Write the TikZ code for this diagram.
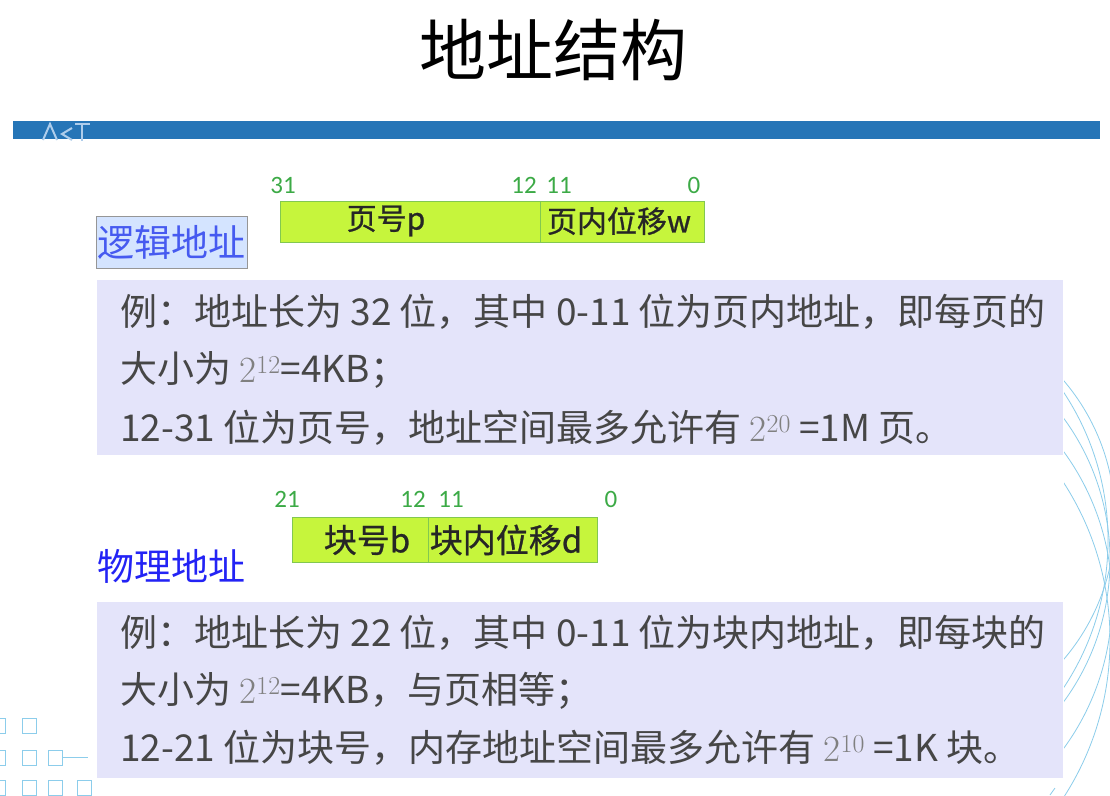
\documentclass[tikz,border=0pt]{standalone}
\usepackage{fontspec}
\setmainfont{Noto Sans CJK SC}
\newfontfamily\lmr{Latin Modern Roman}
\newfontfamily\digitfont{Carlito}
\newfontfamily\regfont[FakeBold=0.8]{Noto Sans CJK SC}
\definecolor{barblue}{RGB}{38,117,183}
\definecolor{limefill}{RGB}{198,245,60}
\definecolor{limeline}{RGB}{130,200,80}
\definecolor{digitgreen}{RGB}{60,170,70}
\definecolor{lavender}{RGB}{228,228,250}
\definecolor{bodygray}{RGB}{70,70,70}
\definecolor{lblfill}{RGB}{212,228,255}
\definecolor{lblline}{RGB}{150,150,150}
\definecolor{lbltext}{RGB}{70,90,240}
\definecolor{phystext}{RGB}{35,35,245}
\definecolor{decoblue}{RGB}{140,205,235}
\definecolor{barglyph}{RGB}{175,205,235}
\tikzset{
  bitno/.style={text=digitgreen, font=\digitfont\fontsize{25}{27}\selectfont, inner sep=0pt},
  regcell/.style={draw=limeline, line width=1pt, fill=limefill, inner sep=0pt, anchor=north west},
  regtext/.style={text=black!85, inner sep=0pt},
  bodyline/.style={anchor=west, text=bodygray, inner sep=0pt, font=\fontsize{37}{40}\selectfont},
  deco/.style={draw=decoblue, line width=0.8pt},
}
\begin{document}
\begin{tikzpicture}[x=1pt,y=-1pt]
\useasboundingbox (0,0) rectangle (1110,795);
\fill[white] (0,0) rectangle (1110,795);
% title
\node[font=\fontsize{67}{70}\selectfont, inner sep=0pt] (title) at (553,50) {地址结构};
% blue bar
\fill[barblue] (13,121) rectangle (1100,139);
\draw[barglyph, line width=2pt] (43,140) -- (50,124) -- (57,140);
\draw[barglyph, line width=2pt] (72,128) -- (62,134) -- (72,140);
\draw[barglyph, line width=2pt] (75,124) -- (90,124) (82,124) -- (82,141);
% right decorative arcs
\begin{scope}
\clip (1064,340) rectangle (1110,795);
\draw[deco] (870,560) circle (240);
\draw[deco] (860,600) circle (252);
\draw[deco] (840,540) circle (268);
\draw[deco] (900,520) circle (215);
\draw[deco] (820,640) circle (290);
\end{scope}
\draw[deco] (1050,795) -- (1055,788);
% bottom-left squares
\foreach \x/\y in {-9/718,22/718,-9/750,22/750,48/750,-9/780,22/780,48/780,77/780}{
  \draw[deco] (\x,\y) rectangle ++(14,15);
}
\draw[deco] (62,757) -- (88,757);
% panels
\fill[lavender] (97,280) rectangle (1063,455);
\fill[lavender] (97,602) rectangle (1063,778);
% logical address label
\node[draw=lblline, line width=1pt, fill=lblfill, text=lbltext, inner sep=0pt, minimum width=151pt, minimum height=52pt, font=\fontsize{37}{40}\selectfont] (logic) at (171.5,242) {逻辑地址};
% top register
\node[regcell, minimum width=260pt, minimum height=41pt] (pageno) at (280,201) {};
\node[regcell, minimum width=164pt, minimum height=41pt] (pageoff) at (540,201) {};
\node[regtext, font=\regfont\fontsize{30}{32}\selectfont] (pagenot) at (386,221) {页号p};
\node[regtext, font=\regfont\fontsize{30}{32}\selectfont] (pageofft) at (619,221) {页内位移w};
\node[bitno] (b31) at (283,185) {31};
\node[bitno] (b12a) at (524,185) {12};
\node[bitno] (b11a) at (559,185) {11};
\node[bitno] (b0a) at (694,185) {0};
% text 1
\node[bodyline] (t11) at (120,312) {例：地址长为 32 位，其中 0-11 位为页内地址，即每页的};
\node[bodyline] (t12) at (120,370) {大小为 {\lmr\color{gray}2\textsuperscript{12}}=4KB；};
\node[bodyline] (t13) at (120,428) {12-31 位为页号，地址空间最多允许有 {\lmr\color{gray}2\textsuperscript{20}} =1M 页。};
% physical address
\node[text=phystext, inner sep=0pt, font=\fontsize{37}{40}\selectfont] (phys) at (171,566) {物理地址};
% bottom register
\node[regcell, minimum width=136pt, minimum height=45pt] (blockno) at (292,517) {};
\node[regcell, minimum width=169pt, minimum height=45pt] (blockoff) at (428,517) {};
\node[regtext, font=\regfont\fontsize{33}{35}\selectfont] (blocknot) at (367,540) {块号b};
\node[regtext, font=\regfont\fontsize{33}{35}\selectfont] (blockofft) at (506,540) {块内位移d};
\node[bitno] (b21) at (287,499) {21};
\node[bitno] (b12b) at (413,499) {12};
\node[bitno] (b11b) at (451,499) {11};
\node[bitno] (b0b) at (611,499) {0};
% text 2
\node[bodyline] (t21) at (120,633) {例：地址长为 22 位，其中 0-11 位为块内地址，即每块的};
\node[bodyline] (t22) at (120,691) {大小为 {\lmr\color{gray}2\textsuperscript{12}}=4KB，与页相等；};
\node[bodyline] (t23) at (120,748) {12-21 位为块号，内存地址空间最多允许有 {\lmr\color{gray}2\textsuperscript{10}} =1K 块。};
\end{tikzpicture}
\end{document}
